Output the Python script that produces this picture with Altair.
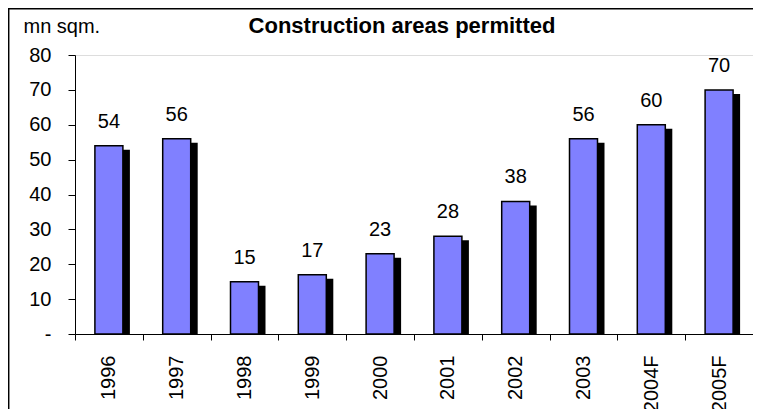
import altair as alt
import pandas as pd

years = ["1996", "1997", "1998", "1999", "2000", "2001", "2002", "2003", "2004F", "2005F"]
areas = [54, 56, 15, 17, 23, 28, 38, 56, 60, 70]
chart_title = "Construction areas permitted"
unit_label = "mn sqm."

df = pd.DataFrame({"year": years, "area": areas})
FONT = "Liberation Sans, Arial, sans-serif"

x_enc = alt.X(
    "year:N",
    sort=years,
    scale=alt.Scale(paddingInner=0, paddingOuter=0),
    axis=alt.Axis(
        title=None,
        labelAngle=-90,
        labelFontSize=20,
        labelFont=FONT,
        labelColor="black",
        labelPadding=15,
        tickSize=6,
        tickBand="extent",
        tickColor="black",
        domainColor="black",
        grid=False,
    ),
)

y_enc = alt.Y(
    "area:Q",
    scale=alt.Scale(domain=[0, 80], nice=False),
    axis=alt.Axis(
        title=unit_label,
        titleAngle=0,
        titleX=-52,
        titleY=-23,
        titleAlign="left",
        titleBaseline="alphabetic",
        titleFontSize=20,
        titleFont=FONT,
        titleFontWeight="normal",
        titleColor="black",
        values=[0, 10, 20, 30, 40, 50, 60, 70, 80],
        labelExpr="datum.value == 0 ? '-\u00a0\u00a0\u00a0\u00a0' : datum.label",
        labelFontSize=20,
        labelFont=FONT,
        labelColor="black",
        labelPadding=17,
        tickSize=7,
        tickColor="black",
        domainColor="black",
        grid=False,
    ),
)

base = alt.Chart(df)

shadow = base.mark_bar(color="black", size=28, xOffset=7, yOffset=4, clip=True).encode(
    x=x_enc, y=y_enc
)
bars = base.mark_bar(color="#8080FF", size=28, stroke="black", strokeWidth=1.5).encode(
    x=x_enc, y=y_enc
)
labels = base.mark_text(
    fontSize=20, font=FONT, baseline="alphabetic", dy=-18, color="black"
).encode(x=x_enc, y=y_enc, text="area:Q")

one = pd.DataFrame({"t": [chart_title]})
title_text = alt.Chart(one).mark_text(
    fontSize=22, font=FONT, fontWeight="bold", color="black",
    align="center", baseline="alphabetic",
).encode(x=alt.value(327), y=alt.value(-22), text="t:N")

frame = alt.Chart(one).mark_rect(fill=None, fillOpacity=0, stroke="black", strokeWidth=1.5).encode(
    x=alt.value(-66.3), x2=alt.value(760), y=alt.value(-46.3), y2=alt.value(520)
)

chart = (
    alt.layer(frame, title_text, shadow, bars, labels)
    .properties(
        width=678,
        height=279,
        padding={"left": 67, "top": 47, "right": 0, "bottom": 75},
        autosize=alt.AutoSizeParams(type="none"),
    )
    .configure_view(stroke=None)
    .configure(background="white")
)

chart.save("out.html", embed_options={"renderer": "svg", "actions": False})
